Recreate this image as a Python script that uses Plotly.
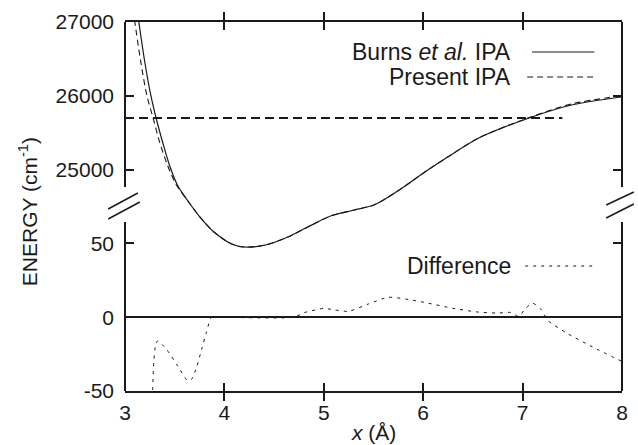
import plotly.graph_objects as go

# ---------------- data ----------------
burns_x = [3.109, 3.139, 3.199, 3.259, 3.318, 3.378, 3.447, 3.527, 3.626, 3.746, 3.895, 4.074, 4.193,
           4.412, 4.640, 4.839, 5.068, 5.306, 5.505, 5.634, 5.803, 6.002, 6.231, 6.559,
           7.095, 7.493, 7.990]
burns_e = [27298, 27000, 26458, 26011, 25672, 25374, 25062, 24791, 24588, 24371, 24155, 23992, 23951,
           23978, 24087, 24222, 24371, 24452, 24520, 24615, 24764, 24954, 25157, 25428,
           25713, 25875, 25984]

present_x = [3.070, 3.099, 3.159, 3.219, 3.288, 3.348, 3.427, 3.517, 3.626, 3.746, 3.895, 4.074, 4.193,
             4.412, 4.640, 4.839, 5.068, 5.306, 5.505, 5.634, 5.803, 6.002, 6.231, 6.559,
             7.095, 7.493, 7.990]
present_e = [27298, 27000, 26458, 26011, 25672, 25374, 25062, 24791, 24588, 24371, 24155, 23992, 23951,
             23978, 24087, 24222, 24371, 24452, 24520, 24615, 24764, 24954, 25157, 25428,
             25720, 25890, 26000]

level_x = [3.0, 7.40]
level_e = [25700, 25700]

diff_x = [3.275, 3.29, 3.31, 3.33, 3.42, 3.53, 3.63, 3.67, 3.72, 3.77, 3.82, 3.87, 3.95,
          4.70, 4.80, 5.00, 5.10, 5.25, 5.45, 5.65, 5.85, 6.05, 6.30, 6.55, 6.75, 6.88,
          6.96, 7.03, 7.10, 7.19, 7.25, 7.45, 7.70, 8.00]
diff_v = [-55, -30, -18, -16, -22, -33, -43, -42, -34, -22, -10, 0, 0,
          0, 3, 6, 5, 4, 9, 13.5, 12, 9.5, 6, 3.5, 2.8, 3.2,
          0.5, 6, 9.5, 5, -2, -11, -20, -30]

x_ticks = [3, 4, 5, 6, 7, 8]
upper_ticks = [25000, 26000, 27000]
lower_ticks = [-50, 0, 50]
lower_labels = ["-50", "0", "50"]

# ---------------- figure ----------------
INK = "#1a1a1a"
FONT = "Liberation Sans, Arial, Helvetica, sans-serif"

fig = go.Figure()
fig.add_trace(go.Scatter(x=burns_x, y=burns_e, mode="lines", yaxis="y",
                         line=dict(color=INK, width=1.2, shape="spline", smoothing=0.8)))
fig.add_trace(go.Scatter(x=present_x, y=present_e, mode="lines", yaxis="y",
                         line=dict(color=INK, width=1.1, dash="6px,4px", shape="spline", smoothing=0.8)))
fig.add_trace(go.Scatter(x=level_x, y=level_e, mode="lines", yaxis="y",
                         line=dict(color=INK, width=2, dash="9px,5px")))
fig.add_trace(go.Scatter(x=diff_x, y=diff_v, mode="lines", yaxis="y2",
                         line=dict(color=INK, width=1, dash="3px,5px", shape="spline", smoothing=0.6)))

L, R, T, B = 125, 10, 22, 54
W, H = 638, 445

def px_to_paper(px, py):
    return (px - L) / (W - L - R), (H - B - py) / (H - T - B)

shapes = []
for xp in (0, 1):
    shapes.append(dict(type="line", xref="paper", yref="paper", x0=xp, x1=xp,
                       y0=px_to_paper(0, 187)[1], y1=1, line=dict(color=INK, width=2)))
    shapes.append(dict(type="line", xref="paper", yref="paper", x0=xp, x1=xp,
                       y0=0, y1=px_to_paper(0, 222)[1], line=dict(color=INK, width=2)))
for (a, b) in [((108, 209), (138, 193)), ((108, 219), (140, 202)),
               ((612, 205), (640, 192)), ((612, 218), (640, 204))]:
    x0, y0 = px_to_paper(*a)
    x1, y1 = px_to_paper(*b)
    shapes.append(dict(type="line", xref="paper", yref="paper", x0=x0, y0=y0, x1=x1, y1=y1,
                       line=dict(color=INK, width=1.5)))
leg = [((537, 52), (600, 52), None, 1.2), ((532, 77), (600, 77), "6px,4px", 1.1),
       ((530, 266), (600, 266), "3px,5px", 1)]
for a, b, d, w in leg:
    x0, y0 = px_to_paper(*a)
    x1, y1 = px_to_paper(*b)
    ln = dict(color=INK, width=w)
    if d:
        ln["dash"] = d
    shapes.append(dict(type="line", xref="paper", yref="paper", x0=x0, y0=y0, x1=x1, y1=y1, line=ln))

annotations = []
for txt, py in [("Burns <i>et al.</i> IPA", 52), ("Present IPA", 77), ("Difference", 266)]:
    xp, yp = px_to_paper(518, py)
    annotations.append(dict(text=txt, x=xp, y=yp, xref="paper", yref="paper",
                            xanchor="right", yanchor="middle", showarrow=False,
                            font=dict(family=FONT, size=23, color=INK)))
xp, yp = px_to_paper(27, 212)
annotations.append(dict(text="ENERGY (cm<sup>-1</sup>)", x=xp, y=yp, xref="paper", yref="paper",
                        textangle=-90, showarrow=False, xanchor="center", yanchor="middle",
                        font=dict(family=FONT, size=21, color="#1a1a1a")))
xp, yp = px_to_paper(376, 432)
annotations.append(dict(text="<i>x</i> (Å)", x=xp, y=yp, xref="paper", yref="paper",
                        showarrow=False, xanchor="center", yanchor="middle",
                        font=dict(family=FONT, size=21, color=INK)))

fig.update_layout(
    width=W, height=H,
    margin=dict(l=L, r=R, t=T, b=B, pad=0),
    paper_bgcolor="white", plot_bgcolor="white",
    showlegend=False,
    font=dict(family=FONT, size=21, color=INK),
    xaxis=dict(range=[3, 8], tickvals=x_ticks, ticks="inside", ticklen=8, tickwidth=1.5,
               tickcolor=INK, showline=True, linewidth=2, linecolor=INK, mirror="allticks",
               showgrid=False, zeroline=False, ticklabelstandoff=2),
    yaxis=dict(range=[22000, 27000], tickvals=upper_ticks, ticktext=[str(v) for v in upper_ticks],
               ticks="inside", ticklen=9, tickwidth=1.5, tickcolor=INK,
               showline=False, mirror="ticks", showgrid=False, zeroline=False,
               ticklabelstandoff=10),
    yaxis2=dict(range=[-50, 200], tickvals=lower_ticks, ticktext=lower_labels,
                overlaying="y", side="left",
                ticks="inside", ticklen=9, tickwidth=1.5, tickcolor=INK,
                showline=False, mirror="ticks", showgrid=False,
                zeroline=True, zerolinecolor=INK, zerolinewidth=1.6,
                ticklabelstandoff=10),
    shapes=shapes,
    annotations=annotations,
)

fig.write_html("out.html")
